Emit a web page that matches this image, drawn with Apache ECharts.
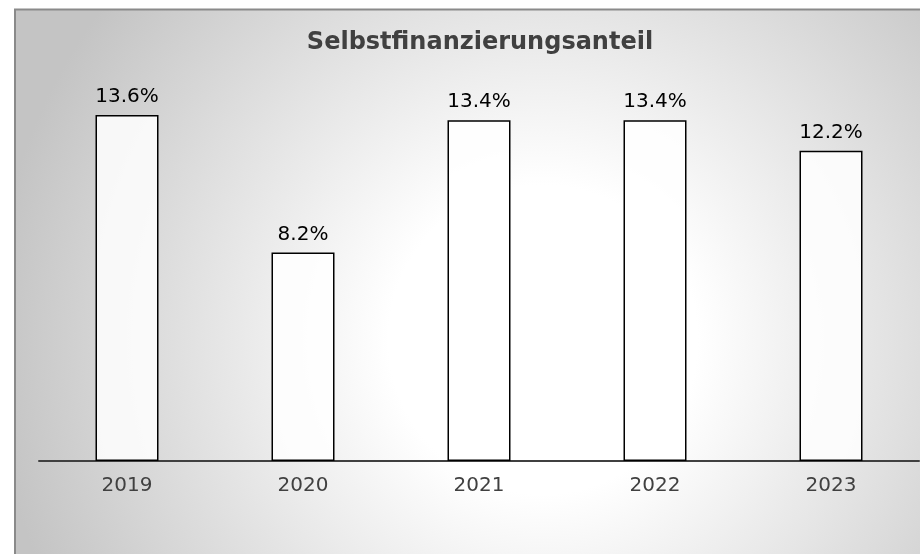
<!DOCTYPE html>
<html>
<head>
<meta charset="utf-8">
<script src="https://cdn.jsdelivr.net/npm/echarts@6/dist/echarts.min.js"></script>
<style>
html,body{margin:0;padding:0;background:#fff;}
#chart{width:920px;height:554px;}
</style>
</head>
<body>
<div id="chart"></div>
<script>
const titleText = 'Selbstfinanzierungsanteil';
const categories = ['2019', '2020', '2021', '2022', '2023'];
const values = [13.6, 8.2, 13.4, 13.4, 12.2];

const chart = echarts.init(document.getElementById('chart'), null, {renderer: 'canvas'});
chart.setOption({
  backgroundColor: '#ffffff',
  animation: false,
  graphic: [{
    type: 'rect',
    z: -100,
    silent: true,
    shape: {x: 15, y: 9.5, width: 910, height: 550},
    style: {
      fill: {
        type: 'radial', x: 0.58, y: 0.6, r: 1.0,
        colorStops: [
          {offset: 0, color: '#ffffff'},
          {offset: 0.28, color: '#ffffff'},
          {offset: 1, color: '#c4c4c4'}
        ]
      },
      stroke: '#8a8a8a',
      lineWidth: 2
    }
  }],
  title: {
    text: titleText,
    left: 475,
    textAlign: 'center',
    top: 26,
    textStyle: {fontFamily: 'DejaVu Sans', fontWeight: 'bold', fontSize: 24, color: '#404040'}
  },
  grid: {left: 39, right: 1, top: 54, bottom: 93, containLabel: false},
  xAxis: {
    type: 'category',
    data: categories,
    axisLine: {show: true, lineStyle: {color: '#404040', width: 2}},
    axisTick: {show: false},
    axisLabel: {fontFamily: 'DejaVu Sans', fontSize: 20, color: '#404040', margin: 15}
  },
  yAxis: {
    type: 'value',
    min: 0, max: 16,
    show: false,
    splitLine: {show: false}
  },
  series: [{
    type: 'bar',
    data: values,
    barWidth: 63,
    itemStyle: {color: 'rgba(255,255,255,0.85)', borderColor: '#000000', borderWidth: 1.5},
    label: {
      show: true,
      position: 'top',
      distance: 8,
      formatter: p => p.value.toFixed(1) + '%',
      fontFamily: 'DejaVu Sans',
      fontSize: 20,
      color: '#000000'
    }
  }]
});
</script>
</body>
</html>
